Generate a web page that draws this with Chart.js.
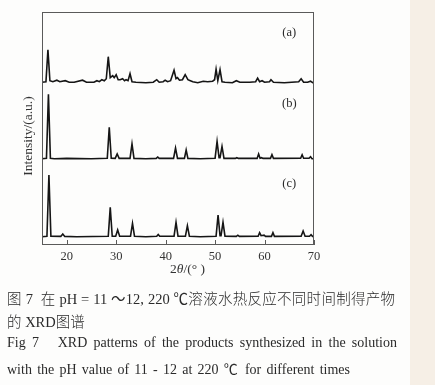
<!DOCTYPE html>
<html>
<head>
<meta charset="utf-8">
<script src="https://cdn.jsdelivr.net/npm/chart.js@4.4.1/dist/chart.umd.min.js"></script>
<style>
  html,body{margin:0;padding:0;}
  body{width:435px;height:385px;background:#fdfdfc;position:relative;overflow:hidden;
       font-family:"Liberation Serif","Noto Sans CJK SC",serif;color:#2a2a2a;}
  #strip{position:absolute;left:410px;top:0;width:25px;height:385px;background:#f6efe6;}
  #wrap{position:absolute;left:0;top:0;width:435px;height:265px;}
  #xtitle{position:absolute;left:170px;top:261px;font-size:13.5px;color:#333;}
  .cap{position:absolute;left:7px;white-space:nowrap;}
  #c1{top:287px;width:388px;font-size:14.5px;text-align:justify;text-align-last:justify;}
  #c2{top:310px;font-size:14.5px;}
  #c3{top:335px;width:390px;font-size:14px;text-align:justify;text-align-last:justify;}
  #c4{top:358px;width:343px;font-size:14px;text-align:justify;text-align-last:justify;}
  .zh{font-family:"Noto Sans CJK SC",sans-serif;font-weight:300;}
</style>
</head>
<body>
<div id="strip"></div>
<div id="wrap"><canvas id="chart" width="435" height="265"></canvas></div>
<div id="xtitle">2<i>θ</i>/(°&nbsp;)</div>
<div class="cap" id="c1"><span class="zh">图</span> 7 &nbsp;<span class="zh">在</span> pH = 11 ～12, 220 ℃<span class="zh">溶液水热反应不同时间制得产物</span></div>
<div class="cap" id="c2"><span class="zh">的</span> XRD<span class="zh">图谱</span></div>
<div class="cap" id="c3">Fig 7 &nbsp; XRD patterns of the products synthesized in the solution</div>
<div class="cap" id="c4">with the pH value of 11 - 12 at 220 ℃ for different times</div>
<script>
// ---- data: [2theta (deg), relative intensity] ----
const patternA = [[15,0.5],[15.8,1],[16.2,33],[16.6,2],[17.2,1],[18.0,2.5],[18.6,1],[19.7,2],[20.5,0.5],[21.5,0.5],[23.2,2.5],[24,0.5],[25.5,0.5],[26.1,2],[26.6,1],[27.1,3],[27.6,2],[28.0,4],[28.4,26],[28.8,5],[29.3,7],[29.6,5],[30.0,8],[30.4,3],[30.8,3],[31.3,4],[31.7,2],[32.0,3],[32.4,2],[32.8,9],[33.2,1],[34,0.5],[36,0],[37.5,0.5],[38.2,3],[38.7,0.5],[39.5,1],[39.9,2.5],[40.4,1],[41.0,2],[41.7,12.5],[42.1,4],[42.4,5],[42.8,2.5],[43.4,3],[43.95,8],[44.5,3],[45,2],[45.5,1],[46.5,0],[47.6,1.5],[48.5,1],[49.5,1.5],[49.9,3],[50.2,13.5],[50.55,2],[51.0,13],[51.4,1],[52,0.5],[53.5,0],[54.3,2],[55,0.5],[57,0.5],[58.2,1],[58.6,4.5],[59.0,1],[59.5,2],[60,0.5],[61.0,1],[61.3,3],[61.8,0.5],[64,0],[66.9,1],[67.4,4],[67.9,0.5],[68.7,0.5],[69.3,1.5],[69.7,0],[70,0.5]];
const patternB = [[15,0],[15.9,0.5],[16.3,64.5],[16.7,0.5],[17.5,0],[20,0.3],[25,0],[28.2,0.5],[28.6,31.5],[29.0,0.5],[29.8,0.3],[30.2,4.7],[30.6,0.3],[32.8,0.3],[33.2,14.7],[33.6,0.3],[36,0],[38.1,0.3],[38.4,1.7],[38.7,0.3],[41.6,0.3],[42.0,10.7],[42.4,0.3],[43.8,0.3],[44.15,8.7],[44.5,0.3],[47,0],[50.0,0.5],[50.4,17.3],[50.8,1],[51.0,1],[51.4,12.3],[51.8,0.3],[54.1,0.3],[54.4,1],[54.7,0.3],[58.5,0.3],[58.8,4.7],[59.1,0.5],[59.4,1],[59.7,0.3],[61.2,0.3],[61.5,4],[61.8,0.3],[67.3,0.5],[67.6,4],[67.9,0.5],[69.0,0.5],[69.3,2],[69.6,0],[70,0]];
const patternC = [[15,0],[16.0,0.5],[16.4,61.7],[16.8,0.5],[18.8,0.3],[19.2,2.7],[19.6,0.3],[22,0],[28.4,0.5],[28.8,29.3],[29.2,0.5],[29.9,0.5],[30.3,6.7],[30.7,0.5],[32.9,0.5],[33.3,13.3],[33.7,0.5],[36,0],[38.2,0.5],[38.5,2.3],[38.8,0.5],[41.7,0.5],[42.1,14.3],[42.5,0.5],[44.0,0.5],[44.4,11],[44.8,0.5],[47,0],[50.2,0.5],[50.6,21.7],[51.0,1],[51.2,1],[51.6,14.3],[52.0,0.5],[54.3,0.3],[54.6,1.5],[54.9,0.3],[58.7,0.5],[59.0,4],[59.3,1],[59.9,1.5],[60.2,0.3],[61.4,0.3],[61.7,4],[62.0,0.3],[67.4,0.5],[67.8,5.7],[68.2,0.5],[69.1,0.5],[69.4,2],[69.7,0.3],[70,0.3]];
const seriesLabels = ['(a)','(b)','(c)'];
const stackOffsets = [162.3, 86.3, 8.3];
const xTickLabels = [20,30,40,50,60,70];
const yTitle = 'Intensity/(a.u.)';

const patterns = [patternA, patternB, patternC];
const datasets = patterns.map((p,i)=>({
  label: seriesLabels[i],
  data: p.map(([x,v])=>({x:x, y:v+stackOffsets[i]})),
  borderColor:'#151515', borderWidth:1.6, pointRadius:0, tension:0, fill:false
}));

const framePlugin = {
  id:'frame',
  afterDraw(chart){
    const {ctx, chartArea:a, scales:{x,y}} = chart;
    ctx.save();
    ctx.strokeStyle='#5a5a5a'; ctx.lineWidth=1;
    ctx.strokeRect(a.left+0.5, a.top+0.5, a.right-a.left-1, a.bottom-a.top-1);
    ctx.beginPath();
    xTickLabels.forEach(v=>{
      const px = Math.round(x.getPixelForValue(v))+0.5;
      ctx.moveTo(px, a.bottom); ctx.lineTo(px, a.bottom-5);
    });
    ctx.stroke();
    ctx.fillStyle='#2a2a2a';
    ctx.font='12.5px "Liberation Serif", serif';
    ctx.textAlign='center'; ctx.textBaseline='middle';
    const labY=[212,141,61];
    seriesLabels.forEach((t,i)=>ctx.fillText(t, x.getPixelForValue(65), y.getPixelForValue(labY[i])));
    // y axis title
    ctx.translate(28, 136);
    ctx.rotate(-Math.PI/2);
    ctx.font='13.5px "Liberation Serif", serif';
    ctx.fillStyle='#333';
    ctx.fillText(yTitle, 0, 0);
    ctx.restore();
  }
};

new Chart(document.getElementById('chart'), {
  type:'line',
  data:{datasets},
  options:{
    responsive:false, animation:false, events:[],
    layout:{padding:{left:0,top:12,right:121,bottom:0}},
    plugins:{legend:{display:false}, tooltip:{enabled:false}},
    scales:{
      x:{type:'linear', min:15, max:70,
         afterBuildTicks(s){ s.ticks = xTickLabels.map(v=>({value:v})); },
         afterFit(s){ s.height = 20; },
         grid:{display:false, drawTicks:false}, border:{display:false},
         ticks:{color:'#333', padding:4, font:{family:'"Liberation Serif", serif', size:12.5}}},
      y:{type:'linear', min:0, max:233,
         afterFit(s){ s.width = 42; },
         grid:{display:false, drawTicks:false}, border:{display:false},
         ticks:{display:false},
         title:{display:false}}
    }
  },
  plugins:[framePlugin]
});
</script>
</body>
</html>
